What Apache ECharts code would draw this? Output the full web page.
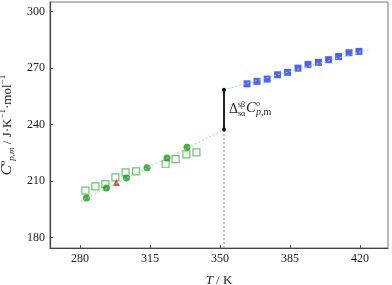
<!DOCTYPE html>
<html><head><meta charset="utf-8">
<script src="https://cdn.jsdelivr.net/npm/echarts@6/dist/echarts.min.js"></script>
<style>html,body{margin:0;padding:0;background:#fff}#c{width:392px;height:285px}</style>
</head><body><div id="c"></div>
<script>
// ---- data ----
const xTicks = [280, 315, 350, 385, 420];
const yTicks = [180, 210, 240, 270, 300];
const openT = [282.7, 287.7, 292.7, 297.7, 302.8, 308.0, 322.8, 327.8, 333.2, 338.2];
const openC = [204.9, 207.2, 208.4, 212.0, 214.6, 215.2, 219.2, 221.7, 224.2, 225.2];
const filledT = [283.2, 293.2, 303.2, 313.5, 323.5, 333.5];
const filledC = [201.0, 206.3, 211.6, 217.1, 222.2, 227.9];
const triT = [298.2];
const triC = [209.3];
const blueT = [363.5, 368.5, 373.6, 378.8, 383.8, 389.0, 394.0, 399.2, 404.3, 409.3, 414.5, 419.5];
const blueC = [261.6, 262.9, 264.1, 266.4, 267.7, 269.9, 271.9, 273.0, 274.4, 276.1, 278.1, 278.8];
const fitLowT = [280.2, 352];
const fitLowC = [199.3, 237.3];
const fitHighT = [352, 424.3];
const fitHighC = [258.5, 279.7];
const transT = 352;
const transC = [237.3, 258.5];
const xMin = 265, xMax = 434, yMin = 174.5, yMax = 305;

const zip = (a, b) => a.map((v, i) => [v, b[i]]);
const serif = '"Liberation Serif", "DejaVu Serif", serif';

const chart = echarts.init(document.getElementById('c'), null, {renderer: 'canvas'});
chart.setOption({
  animation: false,
  grid: {left: 50, top: 2, right: 4, bottom: 37, show: true, borderColor: '#777', borderWidth: 1,
         outerBoundsMode: 'none', containLabel: false},
  xAxis: {
    type: 'value', min: xMin, max: xMax,
    axisLine: {onZero: false, lineStyle: {color: '#444', width: 1.2}},
    axisTick: {inside: true, length: 3, customValues: xTicks, lineStyle: {color: '#444'}},
    axisLabel: {customValues: xTicks, margin: 5, fontFamily: serif, fontSize: 12, color: '#222'},
    splitLine: {show: false},
    name: '{i|T}{n| / K}', nameLocation: 'middle', nameGap: 26,
    nameTextStyle: {rich: {
      i: {fontFamily: serif, fontStyle: 'italic', fontSize: 13, color: '#222'},
      n: {fontFamily: serif, fontSize: 13, color: '#222'}
    }}
  },
  yAxis: {
    type: 'value', min: yMin, max: yMax,
    axisLine: {onZero: false, lineStyle: {color: '#444', width: 1.2}},
    axisTick: {inside: true, length: 3, customValues: yTicks, lineStyle: {color: '#444'}},
    axisLabel: {customValues: yTicks, margin: 5, fontFamily: serif, fontSize: 12, color: '#222'},
    splitLine: {show: false},
    name: '{i|C}{sup|o}{sub|p,m}{n| / J·K}{sup|−1}{n|·mol}{sup|−1}',
    nameLocation: 'middle', nameGap: 27, nameRotate: 90,
    nameTextStyle: {rich: {
      i: {fontFamily: serif, fontStyle: 'italic', fontSize: 15, color: '#222', lineHeight: 18},
      n: {fontFamily: serif, fontSize: 13, color: '#222', lineHeight: 18},
      sup: {fontFamily: serif, fontSize: 9, color: '#222', verticalAlign: 'top', lineHeight: 18},
      sub: {fontFamily: serif, fontStyle: 'italic', fontSize: 9, color: '#222', verticalAlign: 'bottom', lineHeight: 18}
    }}
  },
  series: [
    {type: 'line', data: zip(fitLowT, fitLowC), symbol: 'none', silent: true,
     lineStyle: {color: '#90e690', width: 1, type: [2, 2]}},
    {type: 'line', data: zip(fitHighT, fitHighC), symbol: 'none', silent: true,
     lineStyle: {color: '#96d4f0', width: 1, type: [2, 2]}},
    {type: 'line', data: [[transT, yMin], [transT, transC[0]]], symbol: 'none', silent: true,
     lineStyle: {color: '#888', width: 1, type: [2, 2]}},
    {type: 'line', data: zip([transT, transT], transC), symbol: 'circle', symbolSize: 4,
     itemStyle: {color: '#111'}, lineStyle: {color: '#222', width: 2}},
    {type: 'scatter', data: zip(openT, openC), symbol: 'rect', symbolSize: 7,
     itemStyle: {color: '#fff', borderColor: '#44b544', borderWidth: 1.2}},
    {type: 'scatter', data: zip(filledT, filledC), symbol: 'circle', symbolSize: 7,
     itemStyle: {color: '#119c11'}},
    {type: 'scatter', data: zip(triT, triC), symbol: 'triangle', symbolSize: 7,
     itemStyle: {color: '#d42020'}},
    {type: 'scatter', data: zip(blueT, blueC), symbol: 'rect', symbolSize: 7,
     itemStyle: {color: '#1f3cf0'}}
  ]
});

// annotation Δ_{sα}^{sβ} C°_{p,m}, anchored next to the transition line
const p = chart.convertToPixel({gridIndex: 0}, [transT, 248]);
const ax = p[0], ay = p[1];
const T = (text, dx, dy, size, italic) => ({
  type: 'text', x: ax + dx, y: ay + dy,
  style: {text, fill: '#222', textVerticalAlign: 'middle',
          font: (italic ? 'italic ' : '') + size + 'px ' + serif}
});
chart.setOption({graphic: [
  T('Δ', 5, 0, 14, false),
  T('sβ', 14, -5, 8, false),
  T('sα', 14, 4, 8, false),
  T('C', 22, -1, 15, true),
  T('o', 32, -6, 8, false),
  T('p', 32, 3, 10, true),
  T(',m', 37, 3, 10, false)
]});
</script></body></html>
